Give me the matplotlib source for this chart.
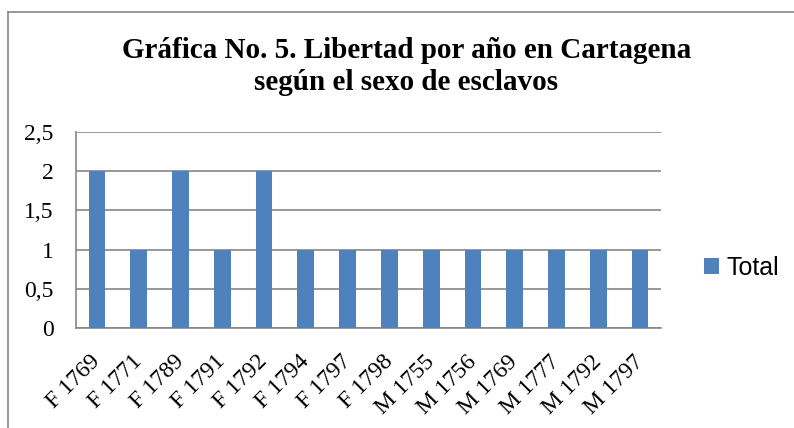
import matplotlib
matplotlib.use("Agg")
import matplotlib.pyplot as plt
from matplotlib.lines import Line2D

categories = ["F 1769", "F 1771", "F 1789", "F 1791", "F 1792", "F 1794", "F 1797",
              "F 1798", "M 1755", "M 1756", "M 1769", "M 1777", "M 1792", "M 1797"]
values = [2, 1, 2, 1, 2, 1, 1, 1, 1, 1, 1, 1, 1, 1]
yticks = [0, 0.5, 1, 1.5, 2, 2.5]
ytick_labels = ["0", "0,5", "1", "1,5", "2", "2,5"]
title_lines = ["Gráfica No. 5. Libertad por año en Cartagena", "según el sexo de esclavos"]
series_name = "Total"

W, H = 794, 428
fig = plt.figure(figsize=(W / 100, H / 100), dpi=100)
fig.patch.set_facecolor("white")

serif = ["Liberation Serif", "DejaVu Serif"]
sans = ["Liberation Sans", "DejaVu Sans"]
grid_col = "#868686"
bar_col = "#4F81BD"

# outer chart border (left and top visible)
fig.add_artist(Line2D([8 / W, 8 / W], [0, 1 - 12 / H], transform=fig.transFigure,
                      color=grid_col, lw=1.2))
fig.add_artist(Line2D([8 / W, 1], [1 - 12 / H, 1 - 12 / H], transform=fig.transFigure,
                      color=grid_col, lw=1.2))

left, right, top, bottom = 76, 661, 132, 328
ax = fig.add_axes([left / W, 1 - bottom / H, (right - left) / W, (bottom - top) / H])

x = list(range(len(categories)))
bars = ax.bar(x, values, width=0.4, color=bar_col, zorder=3, label=series_name)
ax.set_xlim(-0.5, len(categories) - 0.5)
ax.set_ylim(0, 2.5)
ax.set_yticks(yticks)
ax.set_yticklabels(ytick_labels, family=serif, fontsize=17)
ax.set_xticks(x)
ax.set_xticklabels(categories, family=serif, fontsize=17, rotation=45,
                   ha="right", va="center", rotation_mode="anchor")
ax.tick_params(axis="y", length=0, pad=16)
ax.tick_params(axis="x", length=0, pad=22)
ax.yaxis.grid(True, color=grid_col, lw=1.2, zorder=0)
ax.set_axisbelow(True)
for s in ["top", "right"]:
    ax.spines[s].set_visible(False)
for s in ["left", "bottom"]:
    ax.spines[s].set_color(grid_col)
    ax.spines[s].set_linewidth(1.2)

# title
fig.text(406.5 / W, 1 - 58 / H, title_lines[0], ha="center", va="baseline",
         family=serif, fontsize=21, fontweight="bold")
fig.text(406.5 / W, 1 - 90 / H, title_lines[1], ha="center", va="baseline",
         family=serif, fontsize=21, fontweight="bold")

# legend
fig.legend(handles=[bars], labels=[series_name], loc="center left",
           bbox_to_anchor=(704 / W, 1 - 268 / H), frameon=False,
           prop={"family": sans, "size": 18}, handlelength=0.6, handleheight=0.6,
           handletextpad=0.3, borderpad=0, borderaxespad=0)

fig.savefig("out.png", dpi=100, facecolor="white")
